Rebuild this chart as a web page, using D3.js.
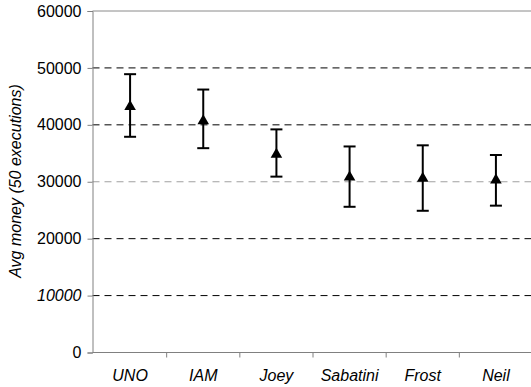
<html>
<head>
<script src="https://d3js.org/d3.v7.min.js"></script>
<style>
  body { margin: 0; background: #fff; }
  text { font-family: "Liberation Sans", Arial, sans-serif; }
</style>
</head>
<body>
<svg width="531" height="387"></svg>
<script>
// data
const players = ['UNO', 'IAM', 'Joey', 'Sabatini', 'Frost', 'Neil'];
const avgMoney = [43200, 40700, 34800, 30800, 30600, 30300];
const highMoney = [48900, 46200, 39200, 36200, 36400, 34700];
const lowMoney = [37900, 35900, 30900, 25600, 24900, 25800];
const yTicks = [0, 10000, 20000, 30000, 40000, 50000, 60000];

const svg = d3.select('svg');

const x = d3.scaleBand().domain(players).range([93.5, 532.5]);
const y = d3.scaleLinear().domain([0, 60000]).range([352.5, 11]);
const axisX = 92.5;

// grid lines
svg.append('g')
  .selectAll('line')
  .data(yTicks.filter(d => d > 0))
  .join('line')
  .attr('x1', axisX).attr('x2', 531)
  .attr('y1', d => y(d)).attr('y2', d => y(d))
  .attr('stroke', d => d == 60000 ? '#8a8a8a' : d == 30000 ? '#a0a0a0' : '#000')
  .attr('stroke-width', 1)
  .attr('stroke-dasharray', d => d == 60000 ? null : '7,5');

// y axis
let ya = svg.append('g')
  .attr('transform', `translate(${axisX},0)`)
  .call(d3.axisLeft(y).tickValues(yTicks).tickSize(5).tickPadding(6).tickFormat(d3.format('d')));
ya.select('.domain').attr('stroke', '#808080');
ya.selectAll('.tick line').attr('stroke', '#808080');
ya.selectAll('.tick text')
  .attr('font-size', 16)
  .attr('fill', '#000')
  .attr('font-family', '"Liberation Sans", Arial, sans-serif')
  .attr('font-style', d => d == 10000 ? 'italic' : 'normal');

// x axis: line with ticks between categories
let xa = svg.append('g');
xa.append('line')
  .attr('x1', axisX).attr('x2', 531)
  .attr('y1', y(0)).attr('y2', y(0))
  .attr('stroke', '#808080');
xa.selectAll('line.tk')
  .data(players.slice(1).map(p => x(p)))
  .join('line')
  .attr('class', 'tk')
  .attr('x1', d => d).attr('x2', d => d)
  .attr('y1', y(0)).attr('y2', y(0) + 5)
  .attr('stroke', '#808080');
xa.selectAll('text')
  .data(players)
  .join('text')
  .attr('x', d => x(d) + x.bandwidth() / 2)
  .attr('y', 381)
  .attr('text-anchor', 'middle')
  .attr('font-size', 16)
  .attr('font-style', 'italic')
  .text(d => d);

// y title
svg.append('text')
  .attr('transform', 'translate(21,181) rotate(-90)')
  .attr('text-anchor', 'middle')
  .attr('font-size', 16)
  .attr('font-style', 'italic')
  .text('Avg money (50 executions)');

// error bars
let bars = svg.append('g')
  .selectAll('g')
  .data(players)
  .join('g')
  .attr('transform', d => `translate(${x(d) + x.bandwidth() / 2},0)`);

bars.append('line')
  .attr('y1', (d, i) => y(lowMoney[i]))
  .attr('y2', (d, i) => y(highMoney[i]))
  .attr('stroke', '#000').attr('stroke-width', 2);
bars.append('line')
  .attr('x1', -6).attr('x2', 6)
  .attr('y1', (d, i) => y(highMoney[i])).attr('y2', (d, i) => y(highMoney[i]))
  .attr('stroke', '#000').attr('stroke-width', 2);
bars.append('line')
  .attr('x1', -6).attr('x2', 6)
  .attr('y1', (d, i) => y(lowMoney[i])).attr('y2', (d, i) => y(lowMoney[i]))
  .attr('stroke', '#000').attr('stroke-width', 2);
bars.append('path')
  .attr('d', d3.symbol(d3.symbolTriangle, 58))
  .attr('transform', (d, i) => `translate(0,${y(avgMoney[i])})`)
  .attr('fill', '#000');
</script>
</body>
</html>
